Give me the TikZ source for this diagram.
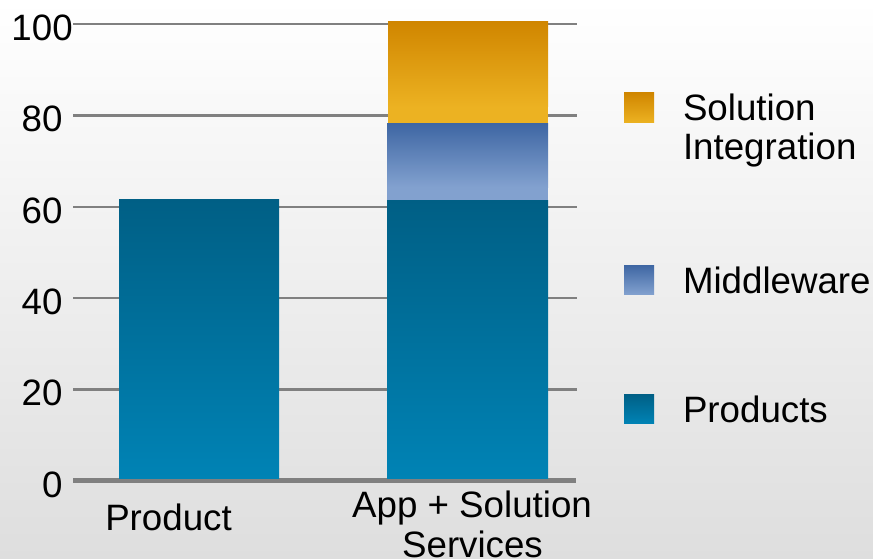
\documentclass[tikz,border=0pt]{standalone}
\usepackage{fontspec}
\setmainfont{Liberation Sans}
\definecolor{prodtop}{RGB}{0,95,133}
\definecolor{prodbot}{RGB}{0,131,181}
\definecolor{midtop}{RGB}{62,102,163}
\definecolor{midbot}{RGB}{130,161,207}
\definecolor{soltop}{RGB}{208,134,0}
\definecolor{solbot}{RGB}{236,178,34}
\definecolor{gridc}{RGB}{128,128,128}
\definecolor{bgbot}{RGB}{222,222,222}
\begin{document}
\begin{tikzpicture}[x=1pt,y=-1pt,
  lbl/.style={inner sep=0pt,outer sep=0pt,font=\fontsize{36.7}{41}\selectfont},
  gridline/.style={draw=gridc,line width=2.2pt},
  prodshade/.style={top color=prodtop,bottom color=prodbot},
  midshade/.style={top color=midtop,bottom color=midbot},
  solshade/.style={top color=soltop,bottom color=solbot}]
\useasboundingbox (0,0) rectangle (873,559);
% background
\shade[top color=white,bottom color=bgbot] (0,0) rectangle (873,559);
% grid lines
\foreach \v/\y in {100/24.2,80/115.5,60/206.8,40/298.1,20/389.4}{
  \draw[gridline] (73,\y) -- (577,\y);
}
\draw[draw=gridc,line width=5pt] (73,480.7) -- (576,480.7);
% y labels
\node[lbl,anchor=base east] (y100) at (72.7,40.5) {100};
\node[lbl,anchor=base east] (y80) at (62.5,131.8) {80};
\node[lbl,anchor=base east] (y60) at (62.5,223.1) {60};
\node[lbl,anchor=base east] (y40) at (62.5,314.4) {40};
\node[lbl,anchor=base east] (y20) at (62.5,405.7) {20};
\node[lbl,anchor=base east] (y0) at (62.5,497.0) {0};
% bar 1
\shade[prodshade] (119,199) rectangle (279,478.3);
% bar 2
\shade[prodshade] (387,200) rectangle (548,478.3);
\fill[midbot] (387,186) rectangle (548,200);
\shade[midshade] (387,123.3) rectangle (548,187);
\fill[solbot] (388,106) rectangle (548,123.3);
\shade[solshade] (388,22) rectangle (548,107);
% category labels
\node[lbl,anchor=base] (c1) at (168.5,530) {Product};
\node[lbl,anchor=base] (c2a) at (472,517) {App + Solution};
\node[lbl,anchor=base] (c2b) at (472.5,557) {Services};
% legend
\shade[solshade] (624,92.7) rectangle (654,122.7);
\shade[midshade] (624,265) rectangle (654,294.5);
\shade[prodshade] (624,394) rectangle (654,423.5);
\node[lbl,anchor=base west] (l1a) at (683,120.7) {Solution};
\node[lbl,anchor=base west] (l1b) at (683,159.5) {Integration};
\node[lbl,anchor=base west] (l2) at (683,293) {Middleware};
\node[lbl,anchor=base west] (l3) at (683,422) {Products};
\end{tikzpicture}
\end{document}
